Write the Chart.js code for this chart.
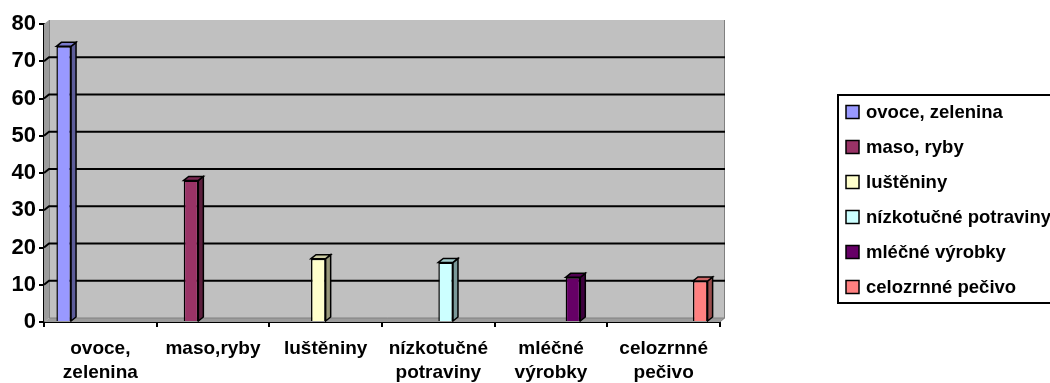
<!DOCTYPE html>
<html>
<head>
<meta charset="utf-8">
<script src="https://cdn.jsdelivr.net/npm/chart.js@4/dist/chart.umd.min.js"></script>
<style>
  html, body { margin: 0; padding: 0; background: #ffffff; }
  canvas { display: block; }
</style>
</head>
<body>
<canvas id="chart" width="1050" height="383"></canvas>
<script>
// Category labels on the x axis (multi-line)
const categories = [
  ['ovoce,', 'zelenina'],
  ['maso,ryby'],
  ['luštěniny'],
  ['nízkotučné', 'potraviny'],
  ['mléčné', 'výrobky'],
  ['celozrnné', 'pečivo']
];

// Series names shown in the legend
const seriesNames = [
  'ovoce, zelenina',
  'maso, ryby',
  'luštěniny',
  'nízkotučné potraviny',
  'mléčné výrobky',
  'celozrnné pečivo'
];

// One value per series, each belonging to its own category
const seriesValues = [74, 38, 17, 16, 12, 11];

// Value-axis ticks
const yTicks = [0, 10, 20, 30, 40, 50, 60, 70, 80];

const seriesColors = ['#9999FF', '#993366', '#FFFFCC', '#CCFFFF', '#660066', '#FF8080'];

const FONT = "'Liberation Sans', Arial, sans-serif";
const DEPTH_X = 5;   // 3D depth offset, horizontal
const DEPTH_Y = 4;   // 3D depth offset, vertical

function shade(hex, f) {
  const n = parseInt(hex.slice(1), 16);
  const r = Math.round(((n >> 16) & 255) * f);
  const g = Math.round(((n >> 8) & 255) * f);
  const b = Math.round((n & 255) * f);
  return `rgb(${r},${g},${b})`;
}

const datasets = seriesValues.map((v, i) => ({
  label: seriesNames[i],
  data: categories.map((_, j) => (j === i ? v : null)),
  backgroundColor: seriesColors[i],
  borderColor: '#000000',
  borderWidth: 1.5,
  barPercentage: 1.0,
  categoryPercentage: 0.78
}));

// Back wall, side wall, floor and gridlines of the 3D plot box
const wallsPlugin = {
  id: 'walls',
  beforeDatasetsDraw(chart) {
    const { ctx, chartArea: a, scales } = chart;
    const y = scales.y;
    const top = y.getPixelForValue(yTicks[yTicks.length - 1]);
    const bottom = y.getPixelForValue(0);
    ctx.save();
    // back wall
    ctx.fillStyle = '#c0c0c0';
    ctx.fillRect(a.left + DEPTH_X, top - DEPTH_Y, a.right - a.left, bottom - top);
    // left side wall
    ctx.fillStyle = '#9c9c9c';
    ctx.beginPath();
    ctx.moveTo(a.left, top);
    ctx.lineTo(a.left + DEPTH_X, top - DEPTH_Y);
    ctx.lineTo(a.left + DEPTH_X, bottom - DEPTH_Y);
    ctx.lineTo(a.left, bottom);
    ctx.closePath();
    ctx.fill();
    // floor
    ctx.fillStyle = '#9c9c9c';
    ctx.beginPath();
    ctx.moveTo(a.left, bottom);
    ctx.lineTo(a.left + DEPTH_X, bottom - DEPTH_Y);
    ctx.lineTo(a.right + DEPTH_X, bottom - DEPTH_Y);
    ctx.lineTo(a.right, bottom);
    ctx.closePath();
    ctx.fill();
    // wall edge lines
    ctx.strokeStyle = '#808080';
    ctx.lineWidth = 1;
    ctx.beginPath();
    ctx.moveTo(a.left + DEPTH_X + 0.5, top - DEPTH_Y);
    ctx.lineTo(a.left + DEPTH_X + 0.5, bottom - DEPTH_Y);
    ctx.lineTo(a.right + DEPTH_X, bottom - DEPTH_Y);
    ctx.moveTo(a.right + DEPTH_X - 0.5, top - DEPTH_Y);
    ctx.lineTo(a.right + DEPTH_X - 0.5, bottom - DEPTH_Y);
    ctx.lineTo(a.right, bottom);
    ctx.stroke();
    // gridlines (side wall + back wall)
    ctx.strokeStyle = '#000000';
    ctx.lineWidth = 2;
    yTicks.forEach(t => {
      if (t === 0 || t === yTicks[yTicks.length - 1]) return;
      const py = y.getPixelForValue(t);
      ctx.beginPath();
      ctx.moveTo(a.left, py);
      ctx.lineTo(a.left + DEPTH_X, py - DEPTH_Y);
      ctx.lineTo(a.right + DEPTH_X, py - DEPTH_Y);
      ctx.stroke();
    });
    ctx.restore();
  },
  afterDatasetsDraw(chart) {
    // side and top faces of each bar
    const ctx = chart.ctx;
    ctx.save();
    ctx.strokeStyle = '#000000';
    ctx.lineWidth = 1.5;
    ctx.lineJoin = 'miter';
    chart.data.datasets.forEach((ds, i) => {
      const meta = chart.getDatasetMeta(i);
      meta.data.forEach((el, j) => {
        if (ds.data[j] == null) return;
        const l = el.x - el.width / 2;
        const r = el.x + el.width / 2;
        const t = el.y;
        const b = el.base;
        // side face
        ctx.fillStyle = shade(seriesColors[i], 0.6);
        ctx.beginPath();
        ctx.moveTo(r, t);
        ctx.lineTo(r + DEPTH_X, t - DEPTH_Y);
        ctx.lineTo(r + DEPTH_X, b - DEPTH_Y);
        ctx.lineTo(r, b);
        ctx.closePath();
        ctx.fill();
        ctx.stroke();
        // top face
        ctx.fillStyle = shade(seriesColors[i], 0.8);
        ctx.beginPath();
        ctx.moveTo(l, t);
        ctx.lineTo(l + DEPTH_X, t - DEPTH_Y);
        ctx.lineTo(r + DEPTH_X, t - DEPTH_Y);
        ctx.lineTo(r, t);
        ctx.closePath();
        ctx.fill();
        ctx.stroke();
      });
    });
    ctx.restore();
  }
};

// Boxed legend on the right
const boxLegendPlugin = {
  id: 'boxLegend',
  afterDraw(chart) {
    const ctx = chart.ctx;
    const boxLeft = 838, boxTop = 95, boxBottom = 303, rowStart = 112, rowGap = 35;
    ctx.save();
    ctx.fillStyle = '#ffffff';
    ctx.fillRect(boxLeft, boxTop, 300, boxBottom - boxTop);
    ctx.strokeStyle = '#000000';
    ctx.lineWidth = 2;
    ctx.strokeRect(boxLeft, boxTop, 300, boxBottom - boxTop);
    ctx.font = `bold 18.5px ${FONT}`;
    ctx.textBaseline = 'middle';
    ctx.textAlign = 'left';
    chart.data.datasets.forEach((ds, i) => {
      const cy = rowStart + i * rowGap;
      ctx.fillStyle = ds.backgroundColor;
      ctx.fillRect(846, cy - 6.5, 13, 13);
      ctx.lineWidth = 1.5;
      ctx.strokeRect(846, cy - 6.5, 13, 13);
      ctx.fillStyle = '#000000';
      ctx.fillText(ds.label, 866, cy + 1);
    });
    ctx.restore();
  }
};

new Chart(document.getElementById('chart'), {
  type: 'bar',
  data: { labels: categories, datasets },
  plugins: [wallsPlugin, boxLegendPlugin],
  options: {
    responsive: false,
    animation: false,
    devicePixelRatio: 1,
    layout: { padding: { left: 0, top: 24, right: 330, bottom: 0 } },
    plugins: {
      legend: { display: false },
      tooltip: { enabled: false }
    },
    scales: {
      x: {
        offset: true,
        grid: {
          offset: true,
          drawOnChartArea: false,
          drawTicks: true,
          tickLength: 5,
          color: '#000000',
          lineWidth: 2
        },
        border: { display: true, color: '#000000', width: 2 },
        ticks: {
          color: '#000000',
          maxRotation: 0,
          autoSkip: false,
          padding: 9,
          font: { family: FONT, size: 19, weight: 'bold', lineHeight: 1.3 }
        },
        afterFit(scale) { scale.height = 61; }
      },
      y: {
        min: yTicks[0],
        max: yTicks[yTicks.length - 1],
        grid: {
          drawOnChartArea: false,
          drawTicks: true,
          tickLength: 5,
          color: '#000000',
          lineWidth: 2
        },
        border: { display: true, color: '#000000', width: 2 },
        ticks: {
          stepSize: 10,
          color: '#000000',
          padding: 3,
          font: { family: FONT, size: 22, weight: 'bold' }
        },
        afterFit(scale) { scale.width = 44; }
      }
    }
  }
});
</script>
</body>
</html>
